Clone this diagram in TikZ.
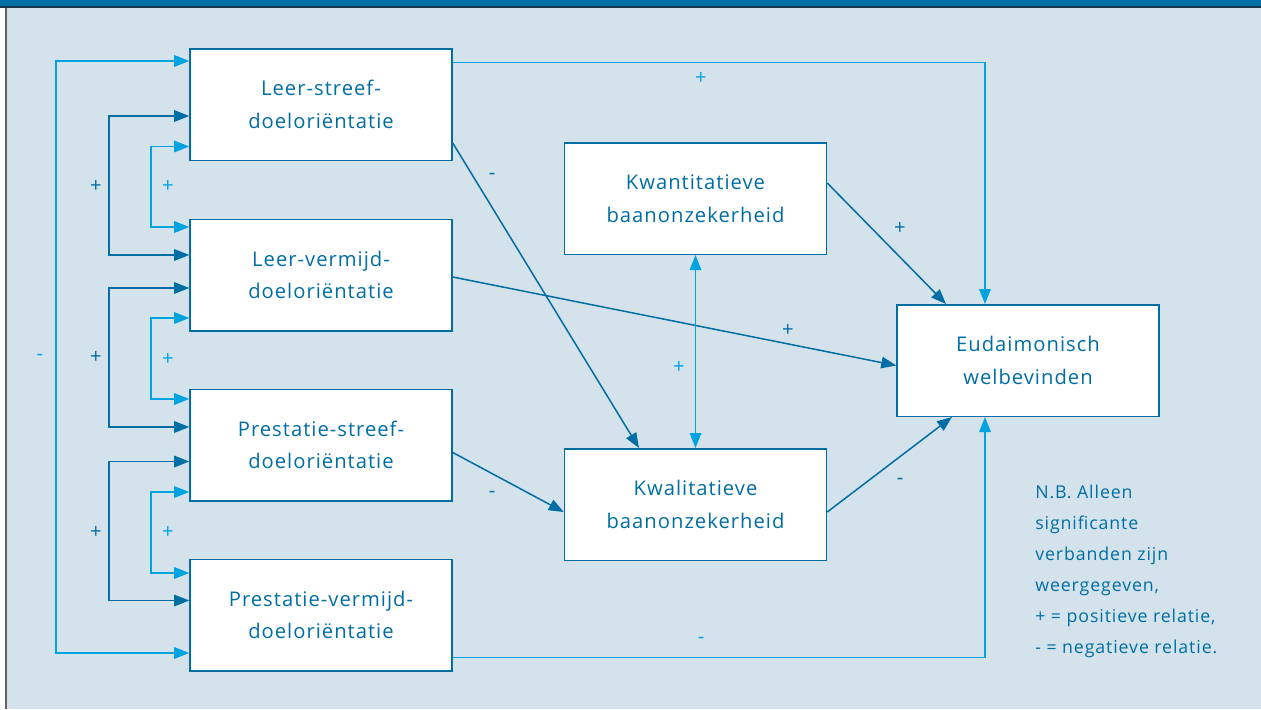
\documentclass[tikz,border=0pt]{standalone}
\usepackage{fontspec}
\setmainfont{Open Sans}[LetterSpace=5]
\usepackage{tikz}
\usetikzlibrary{arrows.meta,calc}

\definecolor{donker}{RGB}{0,110,165}
\definecolor{licht}{RGB}{0,163,224}
\definecolor{achter}{RGB}{212,226,235}
\definecolor{balk}{RGB}{0,112,168}
\definecolor{balkrand}{RGB}{25,55,75}
\definecolor{rand}{RGB}{100,100,100}

\begin{document}
\begin{tikzpicture}[x=0.2mm,y=-0.2mm]
    \tikzset{blok/.style = {shape=rectangle, draw=donker, fill=white, line width=0.3mm,
        minimum width=52.4mm, minimum height=22.3mm, align=center, text=donker,
        font=\fontsize{11.5}{18.5}\selectfont}}
    \tikzset{pijl/.style = {-{Triangle[length=3mm,width=2.3mm]}, line width=0.3mm}}
    \tikzset{tweepijl/.style = {{Triangle[length=3mm,width=2.3mm]}-{Triangle[length=3mm,width=2.3mm]}, line width=0.3mm}}
    \tikzset{teken/.style = {font=\fontsize{11.5}{14}\selectfont, inner sep=0pt}}

    % achtergrond en kader
    \fill[achter] (0,0) rectangle (1261,709);
    \fill[white] (0,0) rectangle (5,709);
    \fill[rand] (5,0) rectangle (7,709);
    \fill[balk] (0,0) rectangle (1261,6);
    \fill[balkrand] (0,6) rectangle (1261,7.5);

    \node[blok] (leerstreef) at (321,104.5) {Leer-streef-\\doeloriëntatie};
    \node[blok] (leervermijd) at (321,275) {Leer-vermijd-\\doeloriëntatie};
    \node[blok] (prestreef) at (321,445) {Prestatie-streef-\\doeloriëntatie};
    \node[blok] (prevermijd) at (321,615) {Prestatie-vermijd-\\doeloriëntatie};
    \node[blok] (kwant) at (695.5,198.5) {Kwantitatieve\\baanonzekerheid};
    \node[blok] (kwal) at (695.5,504.5) {Kwalitatieve\\baanonzekerheid};
    \node[blok] (eud) at (1028,360.5) {Eudaimonisch\\welbevinden};

    % correlaties links
    \draw[tweepijl, licht] ($(leerstreef.west)+(0,-43.5)$) -- ++(-133,0) |- ($(prevermijd.west)+(0,38)$);
    \draw[tweepijl, donker] ($(leerstreef.west)+(0,11.5)$) -- ++(-80,0) |- ($(leervermijd.west)+(0,-20)$);
    \draw[tweepijl, licht] ($(leerstreef.west)+(0,42)$) -- ++(-38,0) |- ($(leervermijd.west)+(0,-48)$);
    \draw[tweepijl, donker] ($(leervermijd.west)+(0,13)$) -- ++(-80,0) |- ($(prestreef.west)+(0,-18)$);
    \draw[tweepijl, licht] ($(leervermijd.west)+(0,43)$) -- ++(-38,0) |- ($(prestreef.west)+(0,-46)$);
    \draw[tweepijl, donker] ($(prestreef.west)+(0,16.5)$) -- ++(-80,0) |- ($(prevermijd.west)+(0,-14.5)$);
    \draw[tweepijl, licht] ($(prestreef.west)+(0,47)$) -- ++(-38,0) |- ($(prevermijd.west)+(0,-42)$);

    % paden naar rechts
    \draw[pijl, licht] ($(leerstreef.east)+(0,-42)$) -| ($(eud.north)+(-43,0)$);
    \draw[pijl, licht] ($(prevermijd.east)+(0,42.5)$) -| ($(eud.south)+(-43,0)$);
    \draw[pijl, donker] ($(leerstreef.east)+(0,38.5)$) -- ($(kwal.north)+(-56.5,0)$);
    \draw[pijl, donker] ($(leervermijd.east)+(0,2)$) -- ($(eud.west)+(0,5)$);
    \draw[pijl, donker] ($(prestreef.east)+(0,7.5)$) -- ($(kwal.west)+(0,7.5)$);
    \draw[pijl, donker] ($(kwant.east)+(0,-15.5)$) -- ($(eud.north)+(-82,0)$);
    \draw[pijl, donker] ($(kwal.east)+(0,7.5)$) -- ($(eud.south)+(-76,0)$);
    \draw[tweepijl, licht] (kwant.south) -- (kwal.north);

    % tekens
    \node[teken, text=licht] (t1) at (40,357) {-};
    \node[teken, text=donker] (t2) at (96,186) {+};
    \node[teken, text=licht] (t3) at (168,186) {+};
    \node[teken, text=donker] (t4) at (96,357) {+};
    \node[teken, text=licht] (t5) at (168,359) {+};
    \node[teken, text=donker] (t6) at (96,532) {+};
    \node[teken, text=licht] (t7) at (168,532) {+};
    \node[teken, text=licht] (t8) at (701,78) {+};
    \node[teken, text=licht] (t9) at (701,640) {-};
    \node[teken, text=donker] (t10) at (492,176) {-};
    \node[teken, text=donker] (t11) at (492,494) {-};
    \node[teken, text=donker] (t12) at (788,330) {+};
    \node[teken, text=donker] (t13) at (900,228) {+};
    \node[teken, text=donker] (t14) at (900,481) {-};
    \node[teken, text=licht] (t15) at (679,367) {+};

    \node[anchor=north west, align=left, text=donker, inner sep=0pt,
        font=\fontsize{10.1}{17.6}\selectfont] (noot) at (1035,485)
        {N.B. Alleen\\significante\\verbanden zijn\\weergegeven,\\+ = positieve relatie,\\- = negatieve relatie.};
\end{tikzpicture}
\end{document}
